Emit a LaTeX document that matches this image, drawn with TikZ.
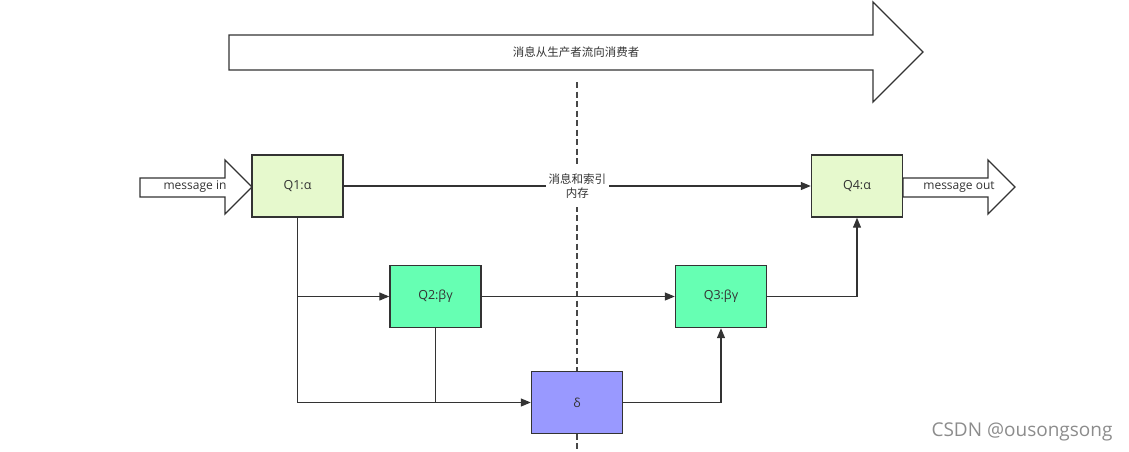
\documentclass[tikz,border=0pt]{standalone}
\usepackage{fontspec}
\setmainfont{Open Sans}
\newfontfamily\cjk{Noto Sans CJK SC}
\usetikzlibrary{arrows.meta}
\definecolor{lg}{HTML}{E6F9CD}
\definecolor{mint}{HTML}{66FFB3}
\definecolor{lav}{HTML}{9999FF}
\definecolor{edge}{HTML}{333333}
\tikzset{
  qbox/.style={draw=edge, line width=1.4pt, minimum width=91pt, minimum height=62pt, inner sep=0pt, font=\fontsize{12.5}{15}\selectfont, text=edge},
  conn/.style={draw=edge, line width=1.2pt, -{Triangle[length=10pt,width=8pt]}},
  plain/.style={draw=edge, line width=1.2pt},
  bigarrow/.style={draw=edge, line width=1.3pt, fill=white},
  lbl/.style={font=\fontsize{12}{14}\selectfont, text=edge, inner sep=0pt},
}
\begin{document}
\begin{tikzpicture}[x=1pt,y=-1pt]
\useasboundingbox (0,0) rectangle (1129,452);
% big top arrow
\draw[bigarrow] (229,35) -- (873,35) -- (873,2) -- (923,52) -- (873,102) -- (873,70) -- (229,70) -- cycle;
\node[lbl, font=\cjk\fontsize{11.5}{14}\selectfont] (flow) at (576,52) {消息从生产者流向消费者};
% dashed divider
\coordinate (dtop) at (577,82);
\coordinate (dbot) at (577,452);
\draw[draw=edge!90, line width=1.8pt, dash pattern=on 6pt off 3.5pt] (dtop) -- (dbot);
% message in / out arrows
\draw[bigarrow] (140,178) -- (225,178) -- (225,160) -- (252,187) -- (225,214) -- (225,197) -- (140,197) -- cycle;
\node[lbl] (min) at (195,187) {message in};
\draw[bigarrow] (903,178) -- (988,178) -- (988,160) -- (1015,187) -- (988,214) -- (988,197) -- (903,197) -- cycle;
\node[lbl] (mout) at (959,187) {message out};
% boxes
\node[qbox, fill=lg] (q1) at (297.5,186) {Q1:α};
\node[qbox, fill=lg] (q4) at (857,186) {Q4:α};
\node[qbox, fill=mint] (q2) at (435.5,296.5) {Q2:βγ};
\node[qbox, fill=mint] (q3) at (721,296.5) {Q3:βγ};
\node[qbox, fill=lav] (d) at (577,402.5) {δ};
% connectors
\draw[conn] (q1.east) -- (q4.west) node[midway, fill=white, lbl, inner xsep=3pt, inner ysep=9pt, align=center, font=\cjk\fontsize{11.5}{14}\selectfont] (mem) {消息和索引\\内存};
\coordinate (j1) at (q1.south |- q2.west);
\coordinate (j2) at (q1.south |- d.west);
\coordinate (j3) at (q2.south |- d.west);
\draw[plain] (q1.south) -- (j2);
\draw[conn] (j1) -- (q2.west);
\draw[conn] (j2) -- (d.west);
\draw[plain] (q2.south) -- (j3);
\draw[conn] (q2.east) -- (q3.west);
\draw[conn] (q3.east) -| (q4.south);
\draw[conn] (d.east) -| (q3.south);
% watermark
\node[font=\fontsize{19}{22}\selectfont, text=black!45, inner sep=0pt] (wm) at (1022,432) {CSDN @ousongsong};
\end{tikzpicture}
\end{document}
